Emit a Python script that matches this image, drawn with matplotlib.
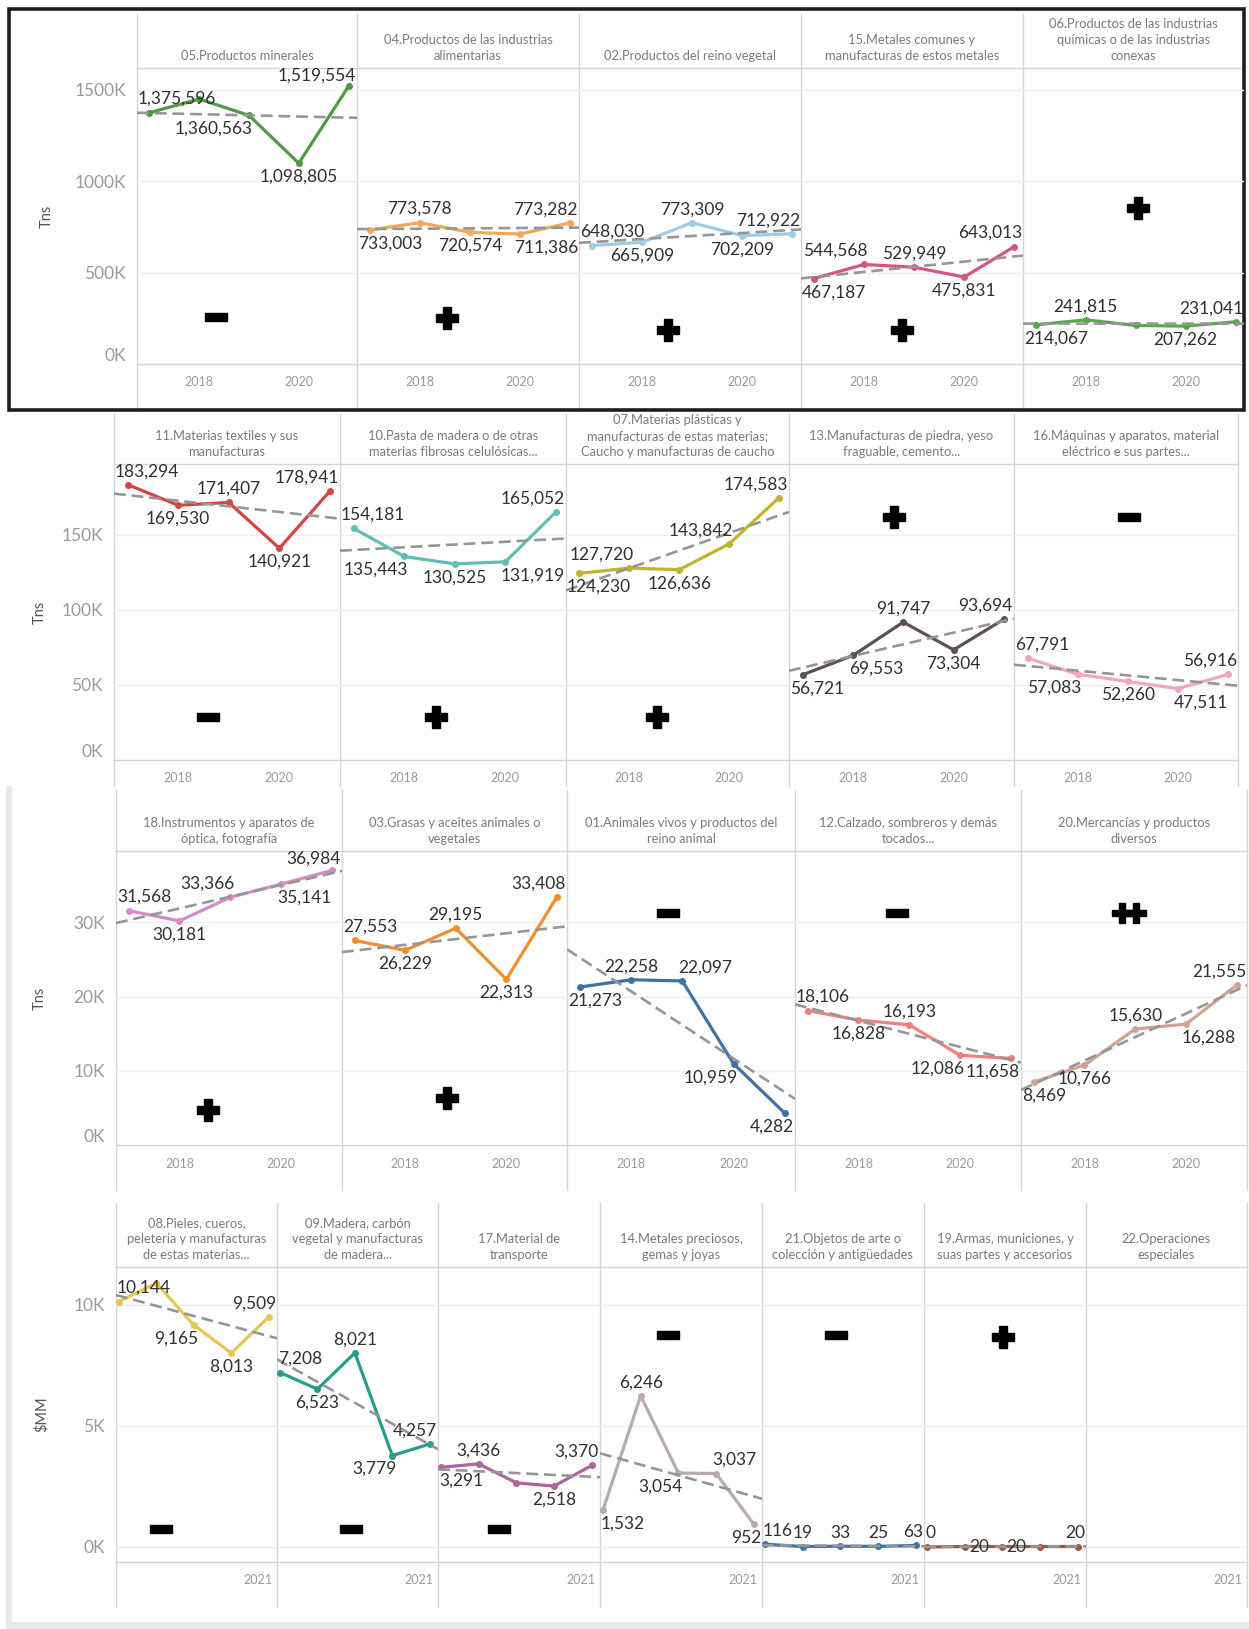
import matplotlib
matplotlib.use("Agg")
import matplotlib.pyplot as plt
from matplotlib.lines import Line2D
from matplotlib.patches import Rectangle
import numpy as np

plt.rcParams['font.family'] = ['Lato', 'DejaVu Sans']

W, H = 1249, 1629
DPI = 100

years = [2017, 2018, 2019, 2020, 2021]

# ---- row 1 (Tns) ----
r1_titles = ["05.Productos minerales",
             "04.Productos de las industrias\nalimentarias",
             "02.Productos del reino vegetal",
             "15.Metales comunes y\nmanufacturas de estos metales",
             "06.Productos de las industrias\nquímicas o de las industrias\nconexas"]
r1_values = [[1375596, 1450000, 1360563, 1098805, 1519554],
             [733003, 773578, 720574, 711386, 773282],
             [648030, 665909, 773309, 702209, 712922],
             [467187, 544568, 529949, 475831, 643013],
             [214067, 241815, 211000, 207262, 231041]]
r1_signs = ["-", "+", "+", "+", "+"]

# ---- row 2 (Tns) ----
r2_titles = ["11.Materias textiles y sus\nmanufacturas",
             "10.Pasta de madera o de otras\nmaterias fibrosas celulósicas...",
             "07.Materias plásticas y\nmanufacturas de estas materias;\nCaucho y manufacturas de caucho",
             "13.Manufacturas de piedra, yeso\nfraguable, cemento...",
             "16.Máquinas y aparatos, material\neléctrico e sus partes..."]
r2_values = [[183294, 169530, 171407, 140921, 178941],
             [154181, 135443, 130525, 131919, 165052],
             [124230, 127720, 126636, 143842, 174583],
             [56721, 69553, 91747, 73304, 93694],
             [67791, 57083, 52260, 47511, 56916]]
r2_signs = ["-", "+", "+", "+", "-"]

# ---- row 3 (Tns) ----
r3_titles = ["18.Instrumentos y aparatos de\nóptica, fotografía",
             "03.Grasas y aceites animales o\nvegetales",
             "01.Animales vivos y productos del\nreino animal",
             "12.Calzado, sombreros y demás\ntocados...",
             "20.Mercancías y productos\ndiversos"]
r3_values = [[31568, 30181, 33366, 35141, 36984],
             [27553, 26229, 29195, 22313, 33408],
             [21273, 22258, 22097, 10959, 4282],
             [18106, 16828, 16193, 12086, 11658],
             [8469, 10766, 15630, 16288, 21555]]
r3_signs = ["+", "+", "-", "-", "++"]

# ---- row 4 ($MM) ----
r4_titles = ["08.Pieles, cueros,\npeletería y manufacturas\nde estas materias...",
             "09.Madera, carbón\nvegetal y manufacturas\nde madera...",
             "17.Material de\ntransporte",
             "14.Metales preciosos,\ngemas y joyas",
             "21.Objetos de arte o\ncolección y antigüedades",
             "19.Armas, municiones, y\nsuas partes y accesorios",
             "22.Operaciones\nespeciales"]
r4_values = [[10144, 10900, 9165, 8013, 9509],
             [7208, 6523, 8021, 3779, 4257],
             [3291, 3436, 2650, 2518, 3370],
             [1532, 6246, 3054, 3037, 952],
             [116, 19, 33, 25, 63],
             [0, 20, 20, 20, 20],
             []]
r4_signs = ["-", "-", "-", "-", "-", "+", ""]

# ---- styles ----
r1_colors = ["#4f9a43", "#f2a65e", "#9fcbe6", "#d2587e", "#5aa64e"]
r2_colors = ["#d64545", "#62bdb4", "#c2b32c", "#5e5250", "#f2a7b9"]
r3_colors = ["#d48cc6", "#f28e2b", "#3f72a4", "#ef8080", "#cfa497"]
r4_colors = ["#e8c656", "#2a9c8b", "#ae649d", "#b8ada8", "#3f74ad", "#9a5a42", "#999999"]

# label placement: a above, b below, al/ar above shifted, bl/br below shifted, r right, n none
r1_labpos = [["a", "n", "bl", "b", "a"], ["b", "a", "b", "br", "a"], ["a", "b", "a", "b", "a"],
             ["b", "al", "a", "b", "a"], ["b", "a", "n", "b", "a"]]
r2_labpos = [["a", "b", "a", "b", "a"], ["a", "bl", "b", "br", "a"], ["b", "al", "b", "al", "a"],
             ["b", "br", "a", "b", "a"], ["a", "bl", "b", "br", "a"]]
r3_labpos = [["a", "b", "al", "br", "a"], ["a", "b", "a", "b", "a"], ["b", "a", "ar", "bl", "b"],
             ["a", "b", "a", "bl", "b"], ["b", "b", "a", "br", "a"]]
r4_labpos = [["a", "n", "bl", "b", "a"], ["a", "b", "a", "bl", "a"], ["b", "a", "n", "b", "a"],
             ["b", "a", "bl", "ar", "b"], ["a", "a", "a", "a", "a"], ["a", "r", "r", "n", "a"], []]

r1_signpos = [(0.36, 0.16), (0.405, 0.155), (0.40, 0.115), (0.455, 0.115), (0.52, 0.527)]
r2_signpos = [(0.416, 0.145), (0.425, 0.145), (0.41, 0.145), (0.467, 0.82), (0.513, 0.82)]
r3_signpos = [(0.407, 0.12), (0.467, 0.16), (0.443, 0.79), (0.45, 0.79), (0.478, 0.79)]
r4_signpos = [(0.28, 0.112), (0.46, 0.112), (0.377, 0.112), (0.42, 0.77), (0.457, 0.77),
              (0.488, 0.763), None]

rows = [
    dict(titles=r1_titles, values=r1_values, colors=r1_colors, labpos=r1_labpos, signs=r1_signs,
         signpos=r1_signpos, edges=[137, 357, 579, 801, 1023, 1244], head_top=14, head_bot=68,
         pane_bot=364, line_bot=408, ylim=(0, 1620000), yticks=[0, 500000, 1000000, 1500000],
         ylab="Tns", ylab_x=47, zero_up=True, xlim=(-0.25, 4.17), xticks=[1, 3]),
    dict(titles=r2_titles, values=r2_values, colors=r2_colors, labpos=r2_labpos, signs=r2_signs,
         signpos=r2_signpos, edges=[114, 340, 566, 789, 1014, 1238], head_top=414, head_bot=464,
         pane_bot=760, line_bot=786, ylim=(0, 197000), yticks=[0, 50000, 100000, 150000],
         ylab="Tns", ylab_x=40, zero_up=True, xlim=(-0.27, 4.2), xticks=[1, 3]),
    dict(titles=r3_titles, values=r3_values, colors=r3_colors, labpos=r3_labpos, signs=r3_signs,
         signpos=r3_signpos, edges=[116, 342, 567, 795, 1021, 1247], head_top=790, head_bot=851,
         pane_bot=1145, line_bot=1190, ylim=(0, 39600), yticks=[0, 10000, 20000, 30000],
         ylab="Tns", ylab_x=40, zero_up=True, xlim=(-0.25, 4.2), xticks=[1, 3]),
    dict(titles=r4_titles, values=r4_values, colors=r4_colors, labpos=r4_labpos, signs=r4_signs,
         signpos=r4_signpos, edges=[116, 277, 438, 600, 762, 924, 1086, 1247], head_top=1203,
         head_bot=1267, pane_bot=1562, line_bot=1607, ylim=(-620, 11570), yticks=[0, 5000, 10000],
         ylab=r"\$MM", ylab_x=42, zero_up=False, xlim=(-0.08, 4.22), xticks=[3.7]),
]

LINE_C = "#d9d4d2"
GRID_C = "#eeeeee"
TICK_C = "#9a9a9a"
MINUS = [(-1, -0.4), (1, -0.4), (1, 0.4), (-1, 0.4), (-1, -0.4)]


def frac(x0, y0, x1, y1):
    # pixel box (top-left origin) -> figure fraction rect
    return [x0 / W, 1 - y1 / H, (x1 - x0) / W, (y1 - y0) / H]


def add_label(ax, xi, v, code):
    if code == "n":
        return None
    ha = {"a": "center", "b": "center", "al": "right", "ar": "left",
          "bl": "right", "br": "left", "r": "left"}[code]
    if code.startswith("a"):
        dy, va = 4, "bottom"
    elif code.startswith("b"):
        dy, va = -4, "top"
    else:
        dy, va = 0, "center"
    dx = {"center": 0, "right": 3, "left": -3}[ha]
    if code == "r":
        dx = 3
    return ax.annotate(f"{v:,}", (xi, v), xytext=(dx, dy), textcoords="offset points",
                       ha=ha, va=va, fontsize=12.5, color="#303030", zorder=6)


fig = plt.figure(figsize=(W / DPI, H / DPI), dpi=DPI)
fig.patch.set_facecolor("white")

over = fig.add_axes([0, 0, 1, 1])
over.set_zorder(-1)
over.set_xlim(0, W)
over.set_ylim(H, 0)
over.axis("off")

# screenshot frames
over.add_patch(Rectangle((6, 786), 6, H - 786, color="#e8e8e8", lw=0))
over.add_patch(Rectangle((6, 1622), W - 6, 7, color="#e8e8e8", lw=0))
over.add_patch(Rectangle((9, 9), 1235, 401, fill=False, ec="#1e1e1e", lw=2.6, zorder=5))

labels = []
for row in rows:
    ed = row["edges"]
    ht, hb, pb, lb = row["head_top"], row["head_bot"], row["pane_bot"], row["line_bot"]
    for e in ed:
        over.add_line(Line2D([e, e], [ht, lb], color=LINE_C, lw=1))
    over.add_line(Line2D([ed[0], ed[-1]], [hb, hb], color=LINE_C, lw=1))
    over.add_line(Line2D([ed[0], ed[-1]], [pb, pb], color=LINE_C, lw=1))
    over.text(row["ylab_x"], (hb + pb) / 2, row["ylab"], rotation=90, ha="center", va="center",
              fontsize=10.5, color="#555555")

    for i in range(len(ed) - 1):
        # header
        hax = fig.add_axes(frac(ed[i], ht, ed[i + 1], hb))
        hax.axis("off")
        hax.annotate(row["titles"][i], (0.5, 0), xycoords="axes fraction", xytext=(0, 4),
                     textcoords="offset points", ha="center", va="bottom", ma="center",
                     fontsize=9.3, color="#7a7a7a", linespacing=1.4, annotation_clip=False,
                     clip_on=True)

        ax = fig.add_axes(frac(ed[i], hb, ed[i + 1], pb))
        ax.set_facecolor("none")
        for s in ax.spines.values():
            s.set_visible(False)
        ax.set_xlim(*row["xlim"])
        ax.set_ylim(*row["ylim"])
        ax.set_yticks(row["yticks"])
        ax.grid(axis="y", color=GRID_C, lw=1)
        ax.set_axisbelow(True)
        if i == 0:
            ax.set_yticklabels([f"{int(t / 1000)}K" for t in row["yticks"]])
            ax.tick_params(axis="y", length=0, pad=8, labelsize=12.5, labelcolor=TICK_C)
            if row["zero_up"]:
                for tl in ax.get_yticklabels():
                    if tl.get_text() == "0K":
                        tl.set_va("bottom")
        else:
            ax.tick_params(axis="y", length=0, labelleft=False)
        ax.set_xticks(row["xticks"])
        if len(row["xticks"]) == 2:
            ax.set_xticklabels([str(years[1]), str(years[3])])
        else:
            ax.set_xticklabels([str(years[4])])
        ax.tick_params(axis="x", length=0, pad=9, labelsize=9, labelcolor=TICK_C)

        vals = row["values"][i]
        if vals:
            x = np.arange(len(vals))
            ax.plot(x, vals, color=row["colors"][i], lw=2.3, marker="o", ms=4,
                    solid_joinstyle="round", zorder=3)
            k, b = np.polyfit(x, vals, 1)
            xt = np.array(row["xlim"])
            ax.plot(xt, k * xt + b, color="#969696", lw=1.9, ls=(0, (4.5, 2.2)), zorder=4)
            for xi, v, code in zip(x, vals, row["labpos"][i]):
                ann = add_label(ax, xi, v, code)
                if ann is not None:
                    labels.append((ax, ann))

        sg = row["signs"][i]
        pos = row["signpos"][i]
        if sg and pos:
            if sg == "-":
                ax.plot([pos[0]], [pos[1]], transform=ax.transAxes, marker=MINUS, ms=16,
                        color="black", ls="none", clip_on=False, zorder=5)
            else:
                n = len(sg)
                ms = 16 if n == 1 else 14
                for j in range(n):
                    xo = pos[0] + (j - (n - 1) / 2) * 0.06
                    ax.plot([xo], [pos[1]], transform=ax.transAxes, marker="P", ms=ms,
                            color="black", mec="black", ls="none", clip_on=False, zorder=5)

# keep data labels inside their pane, as Tableau does
fig.canvas.draw()
renderer = fig.canvas.get_renderer()
for ax, ann in labels:
    bb = ann.get_window_extent(renderer)
    abb = ax.get_window_extent(renderer)
    sx = sy = 0
    if bb.x0 < abb.x0 + 1:
        sx = abb.x0 + 1 - bb.x0
    elif bb.x1 > abb.x1 - 1:
        sx = abb.x1 - 1 - bb.x1
    if bb.y1 > abb.y1:
        sy = abb.y1 - bb.y1
    if sx or sy:
        ox, oy = ann.xyann
        ann.xyann = (ox + sx * 72 / DPI, oy + sy * 72 / DPI)

fig.savefig("out.png", dpi=DPI, facecolor="white")
